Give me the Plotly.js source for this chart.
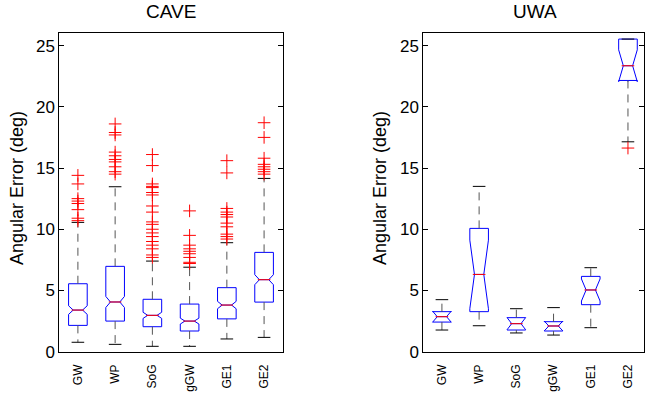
<!DOCTYPE html>
<html>
<head>
<meta charset="utf-8">
<script src="https://cdn.plot.ly/plotly-3.0.1.min.js"></script>
<style>html,body{margin:0;padding:0;background:#fff;}#chart{width:645px;height:397px;}</style>
</head>
<body>
<div id="chart"></div>
<script>
// ---- Data ----
const categories = ['GW', 'WP', 'SoG', 'gGW', 'GE1', 'GE2'];

// CAVE panel
const caveQ1 = [2.15, 2.50, 2.04, 1.69, 2.68, 4.05];
const caveMedian = [3.40, 4.06, 2.97, 2.50, 3.81, 5.88];
const caveQ3 = [5.55, 6.97, 4.28, 3.89, 5.23, 8.11];
const caveNotch = [0.35, 0.45, 0.25, 0.24, 0.30, 0.41];
const caveLowWhisker = [0.77, 0.60, 0.44, 0.44, 1.04, 1.17];
const caveHighWhisker = [10.56, 13.47, 7.40, 6.90, 8.90, 14.15];
const caveOutliersGW = [14.4, 13.7, 12.5, 12.3, 12.1, 11.6, 10.9, 10.7];
const caveOutliersWP = [18.6, 17.9, 17.7, 16.3, 16.0, 15.7, 15.5, 15.1, 14.7, 14.5];
const caveOutliersSoG = [16.1, 15.2, 13.7, 13.5, 13.4, 13.0, 12.8, 11.9, 11.4, 10.6, 10.4, 10.0, 9.7, 9.4, 9.0, 8.7, 8.4, 7.9, 7.7];
const caveOutliersGGW = [11.5, 9.5, 8.7, 8.4, 8.2, 8.0, 7.7, 7.3, 7.2];
const caveOutliersGE1 = [15.6, 14.6, 11.7, 11.4, 11.2, 11.0, 10.5, 10.2, 9.6, 9.4, 9.2];
const caveOutliersGE2 = [18.7, 17.5, 15.8, 15.3, 15.1, 14.9, 14.7, 14.5];

// UWA panel
const uwaQ1 = [2.42, 3.27, 1.77, 1.69, 3.84, 22.15];
const uwaMedian = [2.86, 6.31, 2.29, 2.10, 5.04, 23.35];
const uwaQ3 = [3.27, 10.07, 2.78, 2.45, 6.15, 25.53];
const uwaNotch = [0.45, 2.80, 0.50, 0.40, 0.90, 1.30];
const uwaLowWhisker = [1.77, 2.12, 1.53, 1.36, 1.96, 17.14];
const uwaHighWhisker = [4.25, 13.50, 3.51, 3.60, 6.86, 25.53];
const uwaOutliersGE2 = [16.63];

const yTicks = [0, 5, 10, 15, 20, 25];
const yTickText = ['0', '5', '10', '15', '20', '25'];

// ---- Builders ----
const FONT = 'Liberation Sans, Arial, Helvetica, sans-serif';

function panelTraces(xa, ya, q1, med, q3, notch, lo, hi, outlierLists) {
  const traces = [];
  traces.push({
    type: 'box', xaxis: xa, yaxis: ya,
    x: categories, q1: q1, median: med, q3: q3,
    lowerfence: q1, upperfence: q3,
    notched: true, notchspan: notch, notchwidth: 0.25,
    width: 0.5, whiskerwidth: 0, boxpoints: false,
    line: {color: 'rgb(0,0,255)', width: 1},
    fillcolor: 'rgba(0,0,0,0)', hoverinfo: 'skip', showlegend: false
  });
  // dashed whiskers
  const wx = [], wy = [];
  categories.forEach((c, i) => {
    wx.push(c, c, null, c, c, null);
    wy.push(q3[i], hi[i], null, q1[i], lo[i], null);
  });
  traces.push({
    type: 'scatter', mode: 'lines', xaxis: xa, yaxis: ya,
    x: wx, y: wy, connectgaps: false,
    line: {color: 'rgb(85,85,85)', width: 1, dash: '8px,6px'},
    hoverinfo: 'skip', showlegend: false
  });
  // whisker caps
  traces.push({
    type: 'scatter', mode: 'markers', xaxis: xa, yaxis: ya,
    x: categories.concat(categories), y: lo.concat(hi),
    marker: {symbol: 'line-ew', size: 9, color: 'black', line: {color: 'black', width: 1}},
    hoverinfo: 'skip', showlegend: false
  });
  // red medians
  traces.push({
    type: 'scatter', mode: 'markers', xaxis: xa, yaxis: ya,
    x: categories, y: med,
    marker: {symbol: 'line-ew', size: 9, color: 'rgb(255,0,0)', line: {color: 'rgb(255,0,0)', width: 1}},
    hoverinfo: 'skip', showlegend: false
  });
  // outliers
  const ox = [], oy = [];
  outlierLists.forEach((lst, i) => {
    lst.forEach(v => { ox.push(categories[i]); oy.push(v); });
  });
  traces.push({
    type: 'scatter', mode: 'markers', xaxis: xa, yaxis: ya,
    x: ox, y: oy,
    marker: {symbol: 'cross-thin-open', size: 9, color: 'rgb(255,0,0)', line: {color: 'rgb(255,0,0)', width: 1}},
    hoverinfo: 'skip', showlegend: false
  });
  return traces;
}

const data = []
  .concat(panelTraces('x', 'y', caveQ1, caveMedian, caveQ3, caveNotch, caveLowWhisker, caveHighWhisker,
    [caveOutliersGW, caveOutliersWP, caveOutliersSoG, caveOutliersGGW, caveOutliersGE1, caveOutliersGE2]))
  .concat(panelTraces('x2', 'y2', uwaQ1, uwaMedian, uwaQ3, uwaNotch, uwaLowWhisker, uwaHighWhisker,
    [[], [], [], [], [], uwaOutliersGE2]));

function xAxis(domain, range, anchor) {
  return {
    domain: domain, range: range, anchor: anchor,
    type: 'category', categoryorder: 'array', categoryarray: categories,
    showline: true, mirror: true, linecolor: 'black', linewidth: 1,
    ticks: '', tickangle: -90, ticklabelstandoff: 7,
    tickfont: {family: FONT, size: 12, color: 'black'},
    showgrid: false, zeroline: false, fixedrange: true
  };
}
function yAxis(anchor) {
  return {
    domain: [0.1141, 0.9161], range: [0, 26], anchor: anchor,
    tickmode: 'array', tickvals: yTicks, ticktext: yTickText,
    ticks: 'inside', ticklen: 5, tickcolor: 'black',
    showline: true, mirror: 'ticks', linecolor: 'black', linewidth: 1,
    tickfont: {family: FONT, size: 17, color: 'black'},
    showgrid: false, zeroline: false, fixedrange: true
  };
}

const layout = {
  width: 645, height: 397,
  margin: {l: 0, r: 0, t: 0, b: 0},
  paper_bgcolor: 'white', plot_bgcolor: 'white',
  showlegend: false,
  font: {family: FONT, color: 'black'},
  xaxis: xAxis([0.0919, 0.4383], [-0.5, 5.5], 'y'),
  yaxis: yAxis('x'),
  xaxis2: xAxis([0.6563, 0.9984], [-0.5, 5.43], 'y2'),
  yaxis2: yAxis('x2'),
  annotations: [
    {text: 'CAVE', xref: 'paper', yref: 'paper', x: 0.2651, y: 1 - 12 / 397,
     xanchor: 'center', yanchor: 'middle', showarrow: false, font: {family: FONT, size: 19, color: 'black'}},
    {text: 'UWA', xref: 'paper', yref: 'paper', x: 0.8295, y: 1 - 12 / 397,
     xanchor: 'center', yanchor: 'middle', showarrow: false, font: {family: FONT, size: 19, color: 'black'}},
    {text: 'Angular Error (deg)', xref: 'paper', yref: 'paper', x: 17 / 645, y: 1 - 188 / 397,
     textangle: -90, xanchor: 'center', yanchor: 'middle', showarrow: false, font: {family: FONT, size: 18, color: 'black'}},
    {text: 'Angular Error (deg)', xref: 'paper', yref: 'paper', x: 380 / 645, y: 1 - 188 / 397,
     textangle: -90, xanchor: 'center', yanchor: 'middle', showarrow: false, font: {family: FONT, size: 18, color: 'black'}}
  ]
};

Plotly.newPlot('chart', data, layout, {staticPlot: true, displayModeBar: false});
</script>
</body>
</html>
